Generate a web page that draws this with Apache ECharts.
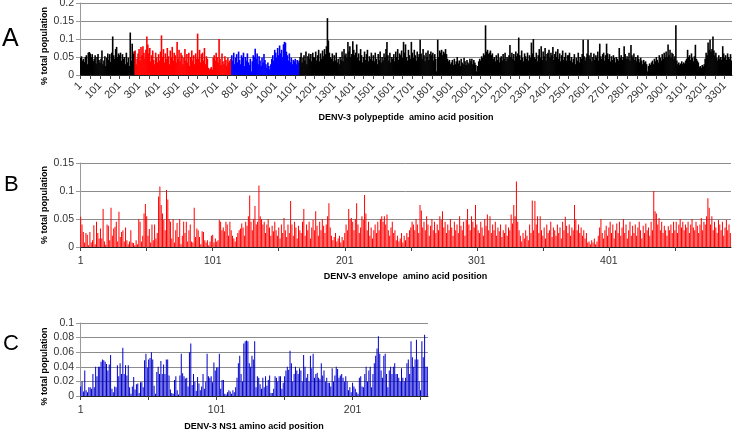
<!DOCTYPE html>
<html><head><meta charset="utf-8">
<script src="https://cdn.jsdelivr.net/npm/echarts@6/dist/echarts.min.js"></script>
<style>html,body{margin:0;padding:0;background:#fff}#c{width:735px;height:430px}</style>
</head><body><div id="c"></div>
<script>
// Panel A: DENV-3 polypeptide, values in thousandths (% total population x 1000), one bar per 5 residues
const polyBinSize = 5;
const polyValues = [
48,52,40,45,36,50,55,30,62,64,60,50,58,38,45,55,32,50,58,42,
35,45,68,30,40,52,25,48,60,42,58,36,62,107,55,45,72,78,50,60,
55,62,40,58,45,50,30,62,35,48,25,118,40,87,58,65,68,30,45,60,
72,40,78,55,80,62,45,70,107,85,60,75,38,55,68,42,30,62,48,35,
58,40,65,110,50,72,35,60,45,75,52,30,68,48,78,40,62,55,35,92,
45,70,38,62,55,30,48,72,40,58,35,62,25,50,68,40,55,30,60,45,
115,45,70,35,58,62,40,75,30,52,45,20,15,18,22,15,48,55,40,62,
50,35,100,45,28,60,38,30,52,42,25,48,35,40,45,55,40,62,30,48,
58,35,65,42,30,55,48,62,25,50,40,60,35,28,45,10,38,55,50,73,
45,60,30,52,40,25,48,35,58,42,30,20,35,25,15,30,45,55,40,70,
62,48,75,55,82,60,70,50,85,92,90,65,55,40,60,35,48,30,42,38,
45,30,42,35,40,50,62,35,48,55,40,65,30,52,60,45,58,38,62,50,
48,65,40,55,70,38,60,45,68,52,72,58,80,158,96,62,50,45,60,38,
55,40,62,35,45,30,50,42,65,38,72,55,60,48,92,65,80,50,58,94,
70,55,62,85,48,60,40,72,55,35,50,65,42,58,70,38,52,45,62,40,
55,38,62,45,30,58,42,65,35,50,40,60,48,72,92,55,40,62,35,50,
45,58,38,65,50,72,42,60,55,68,48,92,62,85,50,40,70,55,45,92,
62,48,70,55,40,65,50,58,98,60,45,72,55,38,62,50,68,42,58,65,
55,62,40,58,45,10,98,50,68,62,70,55,65,60,72,58,45,38,42,30,
35,42,28,45,30,38,50,32,40,25,45,35,30,48,38,28,42,35,30,45,
38,45,30,42,35,28,10,25,38,45,40,52,48,60,55,138,65,70,58,62,
68,55,60,45,50,38,55,42,60,35,48,52,40,58,45,62,38,50,45,55,
83,50,62,45,58,40,65,52,60,104,55,42,68,48,38,60,52,45,62,40,
55,48,90,60,100,50,45,62,38,55,72,48,80,42,65,52,75,40,58,62,
70,48,62,55,78,42,58,65,50,72,45,60,38,55,68,42,50,62,40,55,
55,62,40,50,35,45,58,30,48,40,62,35,50,45,58,98,52,40,48,60,
98,55,45,62,38,50,60,42,55,48,65,40,87,52,45,58,62,40,55,87,
60,45,58,38,52,42,55,48,35,50,45,40,75,48,55,42,50,80,58,45,
52,45,62,40,83,55,48,60,42,50,38,55,45,35,48,40,30,42,35,38,
30,10,25,32,28,35,40,30,45,38,50,42,35,55,48,40,58,45,62,50,
65,50,85,55,70,48,62,58,45,52,138,40,30,35,28,32,38,30,35,32,
40,45,70,50,55,42,60,48,38,52,84,45,40,35,22,25,20,28,24,30,
45,62,55,90,70,98,65,72,107,68,55,62,48,40,55,45,50,42,80,60,
48,55,42,60,50,45,58,40
];
const polyEnvelopeRange = [281, 773];
const polyNs1Range = [774, 1125];

// Panel B: DENV-3 envelope (thousandths)
const envValues = [
54,40,27,8,25,22,3,27,8,12,
39,5,45,25,15,33,15,68,10,4,
40,38,12,70,20,33,36,45,10,63,
18,27,30,10,35,12,5,10,30,8,
7,3,12,5,50,45,10,20,60,77,
55,20,32,8,40,12,40,15,25,90,
108,75,60,48,30,102,85,50,45,15,
50,8,30,43,18,50,5,20,45,25,
45,10,30,40,10,8,70,18,33,30,
18,5,28,27,12,8,12,3,10,20,
22,8,15,10,12,48,45,30,35,28,
45,40,20,45,30,20,15,10,18,25,
30,33,42,35,20,45,38,55,92,45,
30,50,73,40,45,110,55,50,40,45,
25,40,50,35,20,38,28,45,30,20,
35,15,40,25,52,30,18,40,25,82,
40,20,45,35,15,38,30,25,45,68,
20,40,30,45,15,35,48,30,64,38,
20,45,30,50,38,25,40,55,78,35,
20,12,18,25,10,15,20,8,18,12,
25,40,30,68,50,52,45,30,50,78,
40,25,35,55,48,93,60,30,45,20,
35,15,30,40,25,45,30,50,55,45,
55,40,58,30,20,35,45,25,30,12,
20,10,15,25,8,20,12,25,18,30,
35,45,40,30,50,40,25,75,65,35,
45,30,55,40,20,38,50,30,45,25,
40,30,55,48,64,35,45,25,40,30,
50,35,20,45,30,40,25,55,38,30,
45,20,48,68,40,30,55,45,35,75,
40,30,25,45,35,20,50,38,58,30,
55,25,40,30,45,20,35,28,40,18,
30,25,40,20,35,30,58,42,75,55,
117,45,30,20,10,25,15,30,20,12,
40,25,83,30,82,40,55,25,55,30,
20,35,15,40,25,30,45,18,35,30,
20,40,25,35,15,45,30,54,38,25,
40,20,35,30,75,49,30,40,25,35,
20,30,15,25,8,10,5,12,8,15,
5,10,20,35,50,25,15,30,38,20,
35,45,25,40,15,30,42,25,45,20,
35,50,25,40,15,30,45,20,38,25,
40,20,35,45,30,15,38,25,42,30,
35,20,45,30,100,64,60,40,52,30,
45,25,38,30,20,37,30,40,25,45,
30,45,25,40,50,35,45,30,40,35,
45,25,40,50,35,30,45,38,25,40,
52,30,45,40,55,87,70,40,55,30,
45,35,25,48,40,30,45,20,35,48,
30,40,25
];

// Panel C: DENV-3 NS1 (thousandths)
const ns1Values = [
13,20,6,35,8,5,12,12,10,30,
12,40,27,40,40,47,50,49,47,44,
35,43,56,10,5,13,12,42,27,45,
30,66,30,42,28,42,12,3,13,26,
9,16,17,4,19,19,12,49,58,39,
50,52,60,50,14,3,33,40,30,48,
30,43,30,50,50,28,9,4,3,22,
27,8,2,28,58,31,27,24,25,13,
60,72,15,30,20,7,26,17,8,13,
30,10,20,58,27,25,27,19,46,35,
39,39,58,10,22,22,3,2,5,8,
6,3,8,5,12,25,45,55,30,20,
72,75,76,75,45,40,55,50,75,12,
27,25,16,10,25,12,27,14,22,28,
4,4,10,27,25,20,27,27,10,18,
27,35,40,36,62,45,20,30,40,35,
30,38,35,20,56,40,25,30,20,55,
38,58,25,30,32,25,23,45,28,35,
20,25,18,18,13,38,20,28,40,37,
25,28,30,25,20,27,20,8,12,5,
18,13,10,5,3,25,27,13,12,30,
40,20,35,40,12,30,45,55,65,82,
58,35,25,55,58,30,12,35,40,30,
40,45,30,30,25,20,38,25,20,25,
45,50,30,75,53,40,50,77,50,20,
8,75,53,84,40,40
];

const panelLetters = ['A', 'B', 'C'];
const axisTitles = ['DENV-3 polypeptide  amino acid position', 'DENV-3 envelope  amino acid position', 'DENV-3 NS1 amino acid position'];
const yTitle = '% total population';
const yMax = [200, 150, 100];
const yStep = [50, 50, 20];

const polyPositions = polyValues.map((_, i) => String(1 + i * polyBinSize));
const envPositions = envValues.map((_, i) => String(i + 1));
const ns1Positions = ns1Values.map((_, i) => String(i + 1));

const FONT = 'Liberation Sans, Arial, sans-serif';
const labelEvery = (n) => (idx, val) => (Number(val) - 1) % n === 0;

function polyColor(p) {
  const s = Number(polyPositions[p.dataIndex]);
  const e = s + polyBinSize - 1;
  if (e >= polyEnvelopeRange[0] && s <= polyEnvelopeRange[1]) return '#ff0000';
  if (e >= polyNs1Range[0] && s <= polyNs1Range[1]) return '#0000ff';
  return '#000000';
}

function xAxisCfg(gi, cats, rotate, nameGap, margin) {
  return {
    type: 'category', gridIndex: gi, data: cats, boundaryGap: true,
    name: axisTitles[gi], nameLocation: 'middle', nameGap: nameGap,
    nameTextStyle: { fontFamily: FONT, fontSize: 9, fontWeight: 'bold', color: '#000' },
    axisLine: { lineStyle: { color: '#222', width: 1 } },
    axisTick: { show: true, alignWithLabel: true, interval: labelEvery(50), length: 4, lineStyle: { color: '#444' } },
    axisLabel: { interval: labelEvery(100), rotate: rotate, margin: margin, fontFamily: FONT, fontSize: rotate ? 11 : 10.5, color: '#333', hideOverlap: false },
    splitLine: { show: false }
  };
}
function yAxisCfg(gi, shiftDown) {
  return {
    type: 'value', gridIndex: gi, min: 0, max: yMax[gi], interval: yStep[gi],
    name: yTitle, nameLocation: 'middle', nameGap: 31, nameMoveOverlap: false,
    nameTextStyle: { fontFamily: FONT, fontSize: 9, fontWeight: 'bold', color: '#000', padding: [0, shiftDown * 2, 0, 0] },
    axisLine: { show: true, lineStyle: { color: '#999' } },
    axisTick: { show: true, length: 4, lineStyle: { color: '#999' } },
    axisLabel: { fontFamily: FONT, fontSize: 10.5, color: '#333', margin: 6, formatter: v => String(v / 1000) },
    splitLine: { show: true, lineStyle: { color: '#8c8c8c', width: 1 } }
  };
}

const chart = echarts.init(document.getElementById('c'), null, { renderer: 'canvas' });
chart.setOption({
  animation: false,
  backgroundColor: '#fff',
  grid: [
    { left: 80, right: 3, top: 3, height: 72, outerBoundsMode: 'none', containLabel: false },
    { left: 80, right: 4, top: 163, height: 84, outerBoundsMode: 'none', containLabel: false },
    { left: 80, right: 307, top: 323, height: 73, outerBoundsMode: 'none', containLabel: false }
  ],
  xAxis: [
    xAxisCfg(0, polyPositions, 45, 38, 9),
    xAxisCfg(1, envPositions, 0, 25, 9),
    xAxisCfg(2, ns1Positions, 0, 26, 9)
  ],
  yAxis: [yAxisCfg(0, 7), yAxisCfg(1, 0), yAxisCfg(2, 7)],
  series: [
    { type: 'bar', xAxisIndex: 0, yAxisIndex: 0, data: polyValues, barWidth: 1.6, barGap: '-100%', itemStyle: { color: polyColor } },
    { type: 'bar', xAxisIndex: 1, yAxisIndex: 1, data: envValues, barCategoryGap: '30%', itemStyle: { color: '#ff0000' } },
    { type: 'bar', xAxisIndex: 2, yAxisIndex: 2, data: ns1Values, barCategoryGap: '30%', itemStyle: { color: '#0000cc' } }
  ],
  graphic: [
    { type: 'text', left: 2, top: 27, style: { text: panelLetters[0], font: '25px ' + FONT, fill: '#000' } },
    { type: 'text', left: 4, top: 174, style: { text: panelLetters[1], font: '22px ' + FONT, fill: '#000' } },
    { type: 'text', left: 3, top: 333, style: { text: panelLetters[2], font: '22px ' + FONT, fill: '#000' } }
  ]
});
</script></body></html>
